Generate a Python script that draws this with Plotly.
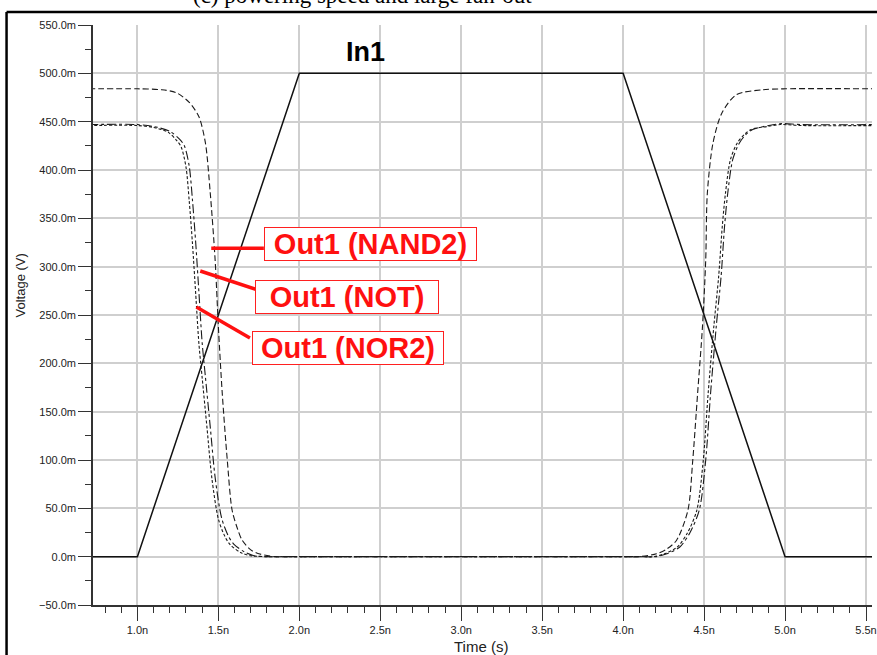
import plotly.graph_objects as go

# ---------------- data (time in ns, voltage in mV) ----------------
in1_t = [0.70, 1.0, 2.0, 4.0, 5.0, 5.60]
in1_v = [0, 0, 500, 500, 0, 0]

nand2_t = [0.70, 1.0, 1.15, 1.24, 1.32, 1.38, 1.42, 1.45, 1.48, 1.50, 1.524, 1.555,
           1.585, 1.62, 1.647, 1.70, 1.75, 1.85, 1.95, 3.0, 4.0, 4.10, 4.206, 4.27, 4.33, 4.40,
           4.43, 4.46, 4.49, 4.51, 4.52, 4.555, 4.61, 4.70, 4.86, 5.0, 5.60]
nand2_v = [484, 484, 483, 480, 470, 455, 428, 376, 307, 238, 169, 100,
           48, 28, 17, 7, 3, 0, 0, 0, 0, 0, 3, 8, 17, 48,
           100, 169, 238, 307, 376, 428, 459, 478, 483, 484, 484]

not_t = [0.70, 1.0, 1.10, 1.20, 1.26, 1.29, 1.32, 1.34, 1.36, 1.38, 1.40, 1.42,
         1.45, 1.48, 1.52, 1.56, 1.595, 1.66, 1.72, 1.80, 1.90, 3.0, 4.10, 4.20, 4.27, 4.35,
         4.41, 4.47, 4.51, 4.54, 4.575, 4.605, 4.626, 4.646, 4.677, 4.718,
         4.76, 4.80, 4.90, 4.98, 5.10, 5.60]
not_v = [447, 447, 445, 440, 432, 425, 404, 369, 325, 273, 221, 186,
         134, 82, 40, 22, 13, 5, 1, 0, 0, 0, 0, 0, 3, 10,
         24, 48, 100, 169, 238, 290, 341, 376, 411, 428,
         437, 442, 446, 448, 447, 447]

nor2_t = [0.70, 1.0, 1.10, 1.19, 1.24, 1.27, 1.30, 1.32, 1.34, 1.36, 1.38, 1.40,
          1.43, 1.46, 1.50, 1.54, 1.575, 1.64, 1.70, 1.80, 1.90, 3.0, 4.10, 4.19, 4.255, 4.335,
          4.395, 4.455, 4.495, 4.525, 4.56, 4.59, 4.612, 4.632, 4.663, 4.705,
          4.75, 4.79, 4.89, 4.97, 5.10, 5.60]
nor2_v = [446, 446, 444, 439, 431, 424, 403, 368, 324, 272, 220, 185,
          133, 81, 39, 21, 12, 4, 1, 0, 0, 0, 0, 0, 3, 10,
          24, 48, 100, 169, 238, 290, 341, 376, 411, 428,
          437, 442, 445, 447, 446, 446]

# axis extents
x_range = [0.7257, 5.537]
y_range = [-50, 550]

# --------------- figure ---------------
fig = go.Figure()
line_col = "#1a1a1a"
fig.add_trace(go.Scatter(x=in1_t, y=in1_v, mode="lines", name="In1",
                         line=dict(color="#111", width=1.5)))
fig.add_trace(go.Scatter(x=nand2_t, y=nand2_v, mode="lines", name="Out1 (NAND2)",
                         line=dict(color=line_col, width=1.1, dash="6px,3px",
                                   shape="spline", smoothing=0.8)))
fig.add_trace(go.Scatter(x=not_t, y=not_v, mode="lines", name="Out1 (NOT)",
                         line=dict(color=line_col, width=1.1, dash="dashdot",
                                   shape="spline", smoothing=0.8)))
fig.add_trace(go.Scatter(x=nor2_t, y=nor2_v, mode="lines", name="Out1 (NOR2)",
                         line=dict(color=line_col, width=1.1, dash="3px,2px",
                                   shape="spline", smoothing=0.8)))

W, H = 877, 655
L, R, T, B = 93, 0, 25, 50
pw, ph = W - L - R, H - T - B

def px2paper_x(px):
    return (px - L) / pw

def px2paper_y(py):
    return (H - B - py) / ph

tick_font = dict(family="Liberation Sans, Arial", size=11, color="#222")

fig.update_layout(
    width=W, height=H,
    margin=dict(l=L, r=R, t=T, b=B),
    paper_bgcolor="white", plot_bgcolor="white",
    showlegend=False,
    xaxis=dict(range=x_range, tick0=1.0, dtick=0.5, tickformat=".1f", ticksuffix="n",
               showgrid=True, gridcolor="#cfcfcf", gridwidth=1.5,
               zeroline=False, showline=True, linecolor="#333", linewidth=1.5,
               ticks="outside", ticklen=14, tickwidth=1.3, tickcolor="#333",
               tickfont=tick_font, ticklabeloverflow="allow",
               minor=dict(dtick=0.1, tick0=1.0, ticks="outside", ticklen=6,
                          tickwidth=1.2, tickcolor="#333", showgrid=False)),
    yaxis=dict(range=y_range, tick0=0, dtick=50, tickformat=".1f", ticksuffix="m",
               showgrid=True, gridcolor="#cfcfcf", gridwidth=1.5,
               zeroline=False, showline=True, linecolor="#333", linewidth=1.5,
               ticks="outside", ticklen=13, tickwidth=1.3, tickcolor="#333",
               tickfont=tick_font,
               minor=dict(dtick=25, tick0=0, ticks="outside", ticklen=6,
                          tickwidth=1.2, tickcolor="#333", showgrid=False)),
)

# outer document frame
fig.add_shape(type="line", xref="paper", yref="paper",
              x0=px2paper_x(6), x1=px2paper_x(6), y0=px2paper_y(12), y1=px2paper_y(660),
              line=dict(color="black", width=2.5))
fig.add_shape(type="line", xref="paper", yref="paper",
              x0=px2paper_x(6), x1=px2paper_x(890), y0=px2paper_y(12), y1=px2paper_y(12),
              line=dict(color="black", width=2.5))

# partially visible caption (mostly cut off at the top of the image)
fig.add_annotation(text="(c) powering speed and large fan-out", xref="paper", yref="paper",
                   x=px2paper_x(364), y=px2paper_y(-4), showarrow=False,
                   xanchor="center", yanchor="middle",
                   font=dict(family="Liberation Serif, Times New Roman", size=23, color="black"))

# axis titles
fig.add_annotation(text="Voltage (V)", xref="paper", yref="paper",
                   x=px2paper_x(20), y=px2paper_y(285), textangle=-90, showarrow=False,
                   xanchor="center", yanchor="middle",
                   font=dict(family="Liberation Sans, Arial", size=13, color="#222"))
fig.add_annotation(text="Time (s)", xref="paper", yref="paper",
                   x=px2paper_x(483), y=px2paper_y(646), showarrow=False,
                   xanchor="center", yanchor="middle",
                   font=dict(family="Liberation Sans, Arial", size=15, color="#222"))

# In1 label
fig.add_annotation(text="<b>In1</b>", x=2.407, y=522, showarrow=False,
                   xanchor="center", yanchor="middle",
                   font=dict(family="Liberation Sans, Arial", size=27, color="black"))

# red callouts: (label, box left x, box centre y, line start, line end, box width)
callouts = [
    ("Out1 (NAND2)", 1.781, 323.4, (1.456, 319), (1.781, 319), 211),
    ("Out1 (NOT)", 1.726, 269.1, (1.388, 295.5), (1.744, 275.9), 182),
    ("Out1 (NOR2)", 1.708, 215.9, (1.364, 258.3), (1.695, 226.3), 190),
]
for lab, bx, by, p0, p1, bw in callouts:
    fig.add_shape(type="line", x0=p0[0], y0=p0[1], x1=p1[0], y1=p1[1],
                  line=dict(color="#ff1010", width=3.5))
    fig.add_annotation(text="<b>" + lab + "</b>", x=bx, y=by, xanchor="left", yanchor="middle",
                       showarrow=False, bgcolor="white", bordercolor="#ff2020", borderwidth=1,
                       borderpad=0, width=bw, height=32,
                       font=dict(family="Liberation Sans, Arial", size=29, color="#ff1010"))

fig.write_html("out.html", config={"displayModeBar": False},
               post_script="document.body.style.margin='0';document.body.style.overflow='hidden';")
